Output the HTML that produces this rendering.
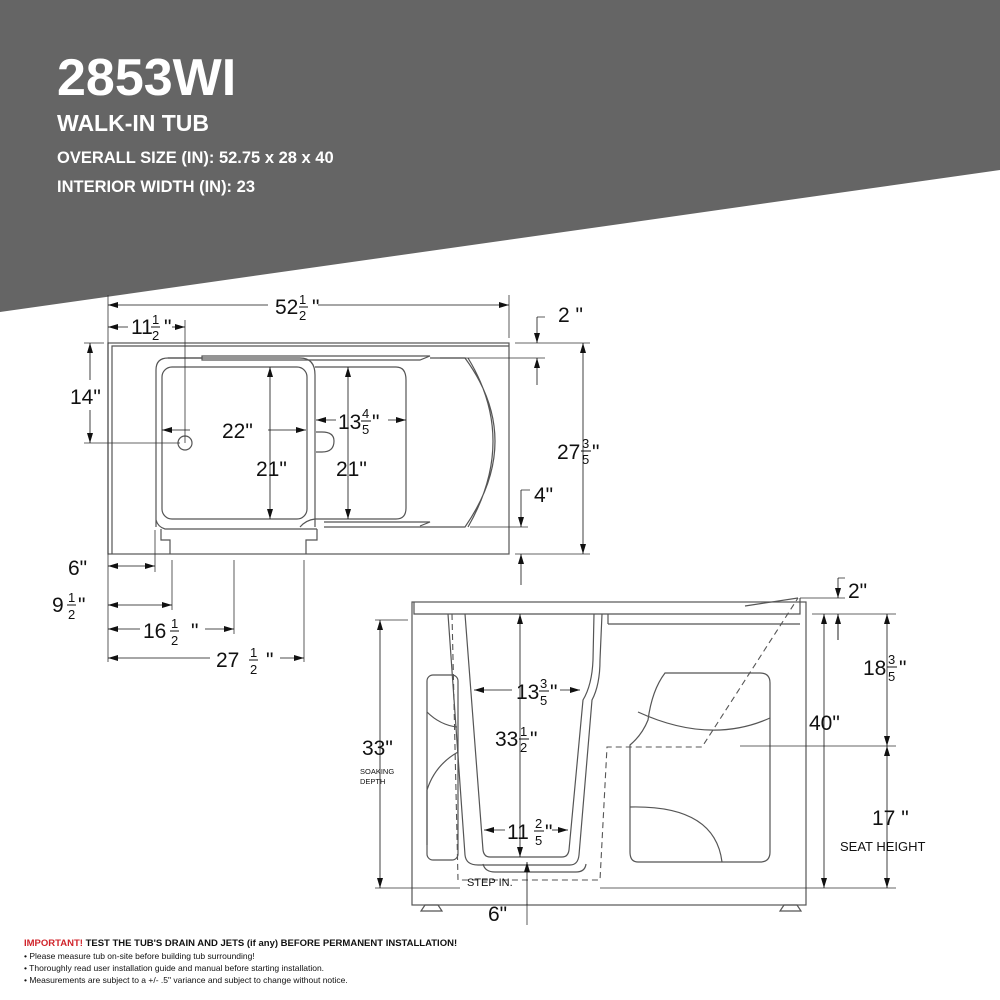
<!DOCTYPE html>
<html><head><meta charset="utf-8"><style>
html,body{margin:0;padding:0;background:#fff}
svg{display:block}
text{font-family:"Liberation Sans",Arial,sans-serif}
.d{font-size:21px;fill:#111}
.f{font-size:13px;fill:#111}
</style></head><body>
<svg width="1000" height="1000" viewBox="0 0 1000 1000">
<defs>
<marker id="a" viewBox="0 0 10 6" refX="10" refY="3" markerWidth="10" markerHeight="6" orient="auto-start-reverse" markerUnits="userSpaceOnUse"><path d="M0,0 L10,3 L0,6 z" fill="#111"/></marker>
</defs>
<polygon points="0,0 1000,0 1000,170 0,312" fill="#656565"/>
<text x="57" y="95" font-size="52" font-weight="bold" fill="#fff">2853WI</text>
<text x="57" y="131" font-size="23" font-weight="bold" fill="#fff">WALK-IN TUB</text>
<text x="57" y="163" font-size="16.5" font-weight="bold" fill="#fff">OVERALL SIZE (IN): 52.75 x 28 x 40</text>
<text x="57" y="192" font-size="16.5" font-weight="bold" fill="#fff">INTERIOR WIDTH (IN): 23</text>

<g fill="none" stroke="#555" stroke-width="1.2">
<rect x="108" y="343" width="401" height="211"/>
<polyline points="112,554 112,346 509,346"/>
<path d="M156,527 L156,370 Q156,358 168,358 L202,358"/>
<path d="M202,356 L430,356 L420,360 L202,360 Z"/>
<path d="M168,358 L300,358 Q315,358 315,375 L315,527"/>
<rect x="162" y="367" width="145" height="152" rx="10"/>
<path d="M315,367 L396,367 Q406,367 406,380 L406,508 Q406,519 396,519 L315,519"/>
<path d="M430,358 L465,358 Q525,440 465,527 L324,527 M468,358 Q518,440 468,527"/>
<path d="M324,522 L430,522 L420,526"/>
<path d="M156,520 Q158,527 165,529 L317,529 M300,527 Q306,520 315,519"/>
<polyline points="161,529 161,540 170,540 170,554"/>
<polyline points="317,529 317,540 306,540 306,554"/>
<path d="M316,432 L322,432 Q334,432 334,441 Q334,452 322,452 L316,452"/>
<circle cx="185" cy="443" r="7"/>

<rect x="412" y="602" width="394" height="303"/>
<polyline points="414,602 414,614 800,614 800,598"/>
<line x1="608" y1="624" x2="800" y2="624"/>
<line x1="608" y1="624" x2="608" y2="614"/>
<path d="M745,606 L798,598"/>
<path d="M448,614 L465,855 Q466,865 478,865 L570,865 Q578,865 579,855 L592,700 Q600,685 600,660 L602,614"/>
<path d="M465,614 L483,850 Q484,857 490,857 L562,857 Q568,857 569,850 L583,700 Q592,685 593,660 L594,614"/>
<rect x="427" y="675" width="31" height="185" rx="6"/>
<path d="M427,712 Q440,725 457,727 M427,845 L427,790 Q435,765 458,752"/>
<path d="M665,673 L760,673 Q770,673 770,683 L770,852 Q770,862 760,862 L638,862 Q630,862 630,852 L630,745 Q642,735 648,720 Q652,690 665,673 Z"/>
<path d="M638,712 Q710,745 770,718 M630,807 Q715,805 722,862"/>
<path d="M483,864 Q485,872 495,872 L576,872 Q585,872 586,864" />
<polygon points="425,905 438,905 442,911 421,911"/><polygon points="784,905 797,905 801,911 780,911"/>
</g>
<g fill="none" stroke="#555" stroke-width="1.1" stroke-dasharray="6,4">
<polyline points="452,614 458,880 600,880 607,747 702,747 798,598"/>
</g>

<g stroke="#333" stroke-width="0.8" fill="none">
<line x1="108" y1="295" x2="108" y2="662"/><line x1="509" y1="295" x2="509" y2="338"/>
<line x1="185" y1="320" x2="185" y2="443"/><line x1="84" y1="443" x2="180" y2="443"/>
<line x1="84" y1="343" x2="104" y2="343"/>
<line x1="515" y1="343" x2="590" y2="343"/><line x1="515" y1="554" x2="590" y2="554"/>
<line x1="440" y1="358" x2="545" y2="358"/><line x1="470" y1="527" x2="528" y2="527"/>
<line x1="155" y1="530" x2="155" y2="572"/><line x1="172" y1="560" x2="172" y2="610"/>
<line x1="234" y1="560" x2="234" y2="634"/><line x1="304" y1="560" x2="304" y2="662"/>
<line x1="537" y1="317" x2="545" y2="317"/><line x1="521" y1="490" x2="530" y2="490"/>
<line x1="375" y1="620" x2="408" y2="620"/><line x1="375" y1="888" x2="460" y2="888"/>
<line x1="600" y1="888" x2="896" y2="888"/><line x1="812" y1="614" x2="896" y2="614"/>
<line x1="740" y1="746" x2="896" y2="746"/><line x1="800" y1="598" x2="845" y2="598"/>
<line x1="838" y1="578" x2="845" y2="578"/><line x1="838" y1="614" x2="838" y2="640"/>
<line x1="527" y1="905" x2="527" y2="925"/>
</g>
<g stroke="#111" stroke-width="0.8">
<!-- arrow at start only -->
<g marker-start="url(#a)">
<line x1="108" y1="305" x2="270" y2="305"/>
<line x1="108" y1="327" x2="128" y2="327"/>
<line x1="162" y1="430" x2="190" y2="430"/>
<line x1="316" y1="420" x2="336" y2="420"/>
<line x1="90" y1="343" x2="90" y2="380"/>
<line x1="108" y1="629" x2="140" y2="629"/>
<line x1="108" y1="658" x2="210" y2="658"/>
<line x1="474" y1="690" x2="512" y2="690"/>
<line x1="484" y1="830" x2="505" y2="830"/>
</g>
<g marker-end="url(#a)">
<line x1="310" y1="305" x2="509" y2="305"/>
<line x1="172" y1="327" x2="185" y2="327"/>
<line x1="268" y1="430" x2="306" y2="430"/>
<line x1="388" y1="420" x2="406" y2="420"/>
<line x1="90" y1="410" x2="90" y2="443"/>
<line x1="205" y1="629" x2="234" y2="629"/>
<line x1="280" y1="658" x2="304" y2="658"/>
<line x1="560" y1="690" x2="580" y2="690"/>
<line x1="552" y1="830" x2="568" y2="830"/>
<line x1="537" y1="317" x2="537" y2="343"/><line x1="537" y1="385" x2="537" y2="358"/>
<line x1="521" y1="490" x2="521" y2="527"/><line x1="521" y1="585" x2="521" y2="554"/>
<line x1="838" y1="578" x2="838" y2="598"/><line x1="838" y1="640" x2="838" y2="614"/>
<line x1="527" y1="905" x2="527" y2="862"/>
</g>
<g marker-start="url(#a)" marker-end="url(#a)">
<line x1="108" y1="566" x2="155" y2="566"/>
<line x1="108" y1="605" x2="172" y2="605"/>
<line x1="270" y1="367" x2="270" y2="519"/><line x1="348" y1="367" x2="348" y2="519"/>
<line x1="583" y1="343" x2="583" y2="554"/>
<line x1="380" y1="620" x2="380" y2="888"/>
<line x1="520" y1="614" x2="520" y2="857"/>
<line x1="824" y1="614" x2="824" y2="888"/>
<line x1="887" y1="614" x2="887" y2="746"/><line x1="887" y1="746" x2="887" y2="888"/>
</g>
</g>

<g class="d">
<rect x="268" y="292" width="50" height="30" fill="#fff"/>
<text x="275" y="314">52</text><text x="299" y="304" font-size="13">1</text><line x1="299" y1="307" x2="308" y2="307" stroke="#111"/><text x="299" y="320" font-size="13">2</text><text x="312" y="314">"</text>
<text x="131" y="334">11</text><text x="152" y="324" font-size="13">1</text><line x1="151" y1="327" x2="160" y2="327" stroke="#111"/><text x="152" y="340" font-size="13">2</text><text x="164" y="334">"</text>
<text x="558" y="322">2 "</text>
<text x="70" y="404">14"</text>
<text x="222" y="438">22"</text>
<text x="256" y="476">21"</text><text x="336" y="476">21"</text>
<text x="338" y="429">13</text><text x="362" y="418" font-size="13">4</text><line x1="361" y1="421" x2="371" y2="421" stroke="#111"/><text x="362" y="434" font-size="13">5</text><text x="372" y="429">"</text>
<text x="557" y="459">27</text><text x="582" y="448" font-size="13">3</text><line x1="581" y1="451" x2="591" y2="451" stroke="#111"/><text x="582" y="464" font-size="13">5</text><text x="592" y="459">"</text>
<text x="534" y="502">4"</text>
<text x="68" y="575">6"</text>
<text x="52" y="612">9</text><text x="68" y="602" font-size="13">1</text><line x1="67" y1="605" x2="76" y2="605" stroke="#111"/><text x="68" y="619" font-size="13">2</text><text x="78" y="612">"</text>
<text x="143" y="638">16</text><text x="171" y="628" font-size="13">1</text><line x1="170" y1="631" x2="179" y2="631" stroke="#111"/><text x="171" y="645" font-size="13">2</text><text x="191" y="638">"</text>
<text x="216" y="667">27</text><text x="250" y="657" font-size="13">1</text><line x1="249" y1="660" x2="258" y2="660" stroke="#111"/><text x="250" y="674" font-size="13">2</text><text x="266" y="667">"</text>
<text x="848" y="598">2"</text>
<text x="362" y="755">33"</text>
<text x="516" y="699">13</text><text x="540" y="688" font-size="13">3</text><line x1="539" y1="691" x2="549" y2="691" stroke="#111"/><text x="540" y="705" font-size="13">5</text><text x="550" y="699">"</text>
<text x="495" y="746">33</text><text x="520" y="736" font-size="13">1</text><line x1="519" y1="739" x2="529" y2="739" stroke="#111"/><text x="520" y="752" font-size="13">2</text><text x="530" y="746">"</text>
<text x="507" y="839">11</text><text x="535" y="828" font-size="13">2</text><line x1="534" y1="831" x2="544" y2="831" stroke="#111"/><text x="535" y="845" font-size="13">5</text><text x="545" y="839">"</text>
<text x="809" y="730">40"</text>
<text x="863" y="675">18</text><text x="888" y="664" font-size="13">3</text><line x1="887" y1="667" x2="897" y2="667" stroke="#111"/><text x="888" y="681" font-size="13">5</text><text x="899" y="675">"</text>
<text x="872" y="825">17 "</text>
<text x="488" y="921">6"</text>
</g>
<text x="840" y="851" class="f">SEAT HEIGHT</text>
<text x="467" y="886" font-size="11" fill="#111">STEP IN.</text>
<text x="360" y="774" font-size="7.5" fill="#111">SOAKING</text>
<text x="360" y="784" font-size="7.5" fill="#111">DEPTH</text>

<g font-size="9.5" fill="#111">
<text x="24" y="946" font-weight="bold"><tspan fill="#d0242b">IMPORTANT!</tspan> TEST THE TUB'S DRAIN AND JETS (if any) BEFORE PERMANENT INSTALLATION!</text>
<text x="24" y="959" font-size="8.5">• Please measure tub on-site before building tub surrounding!</text>
<text x="24" y="971" font-size="8.5">• Thoroughly read user installation guide and manual before starting installation.</text>
<text x="24" y="983" font-size="8.5">• Measurements are subject to a +/- .5" variance and subject to change without notice.</text>
</g>
</svg>
</body></html>
